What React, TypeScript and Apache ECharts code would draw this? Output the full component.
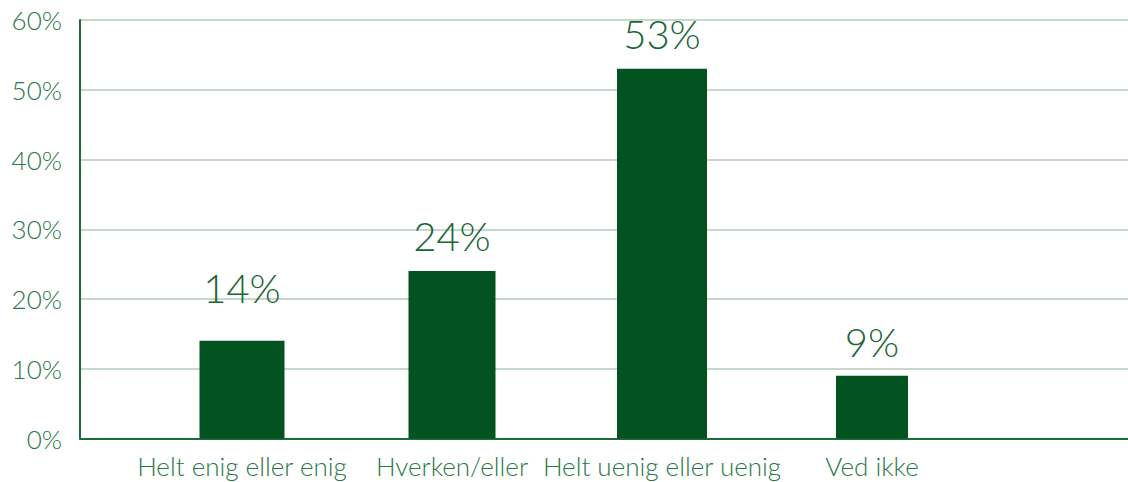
import React, { useEffect, useRef } from "react";
import * as echarts from "echarts";

const categories = ["Helt enig eller enig", "Hverken/eller", "Helt uenig eller uenig", "Ved ikke"];
const values = [14, 24, 53, 9];
const yTicks = [0, 10, 20, 30, 40, 50, 60];

// styling only
const barWidths = [85, 87, 90, 72];
const labelGaps = [33, 15, 15, 14];

const FONT = "Lato, 'Open Sans', sans-serif";
const BAR = "#02531f";
const TEXT = "#2a7747";
const VALTEXT = "#1b6636";

export default function App() {
  const ref = useRef<HTMLDivElement>(null);
  useEffect(() => {
    if (!ref.current) return;
    const chart = echarts.init(ref.current, null, { renderer: "svg" });
    const top = 20;
    const bottom = 43.5;
    chart.setOption({
      animation: false,
      backgroundColor: "#ffffff",
      grid: [
        { left: 137, right: 151, top, bottom },
        { left: 80, right: 0, top, bottom },
      ],
      xAxis: [
        {
          type: "category",
          gridIndex: 0,
          data: categories,
          axisLine: { show: false },
          axisTick: { show: false },
          axisLabel: {
            color: TEXT,
            fontFamily: FONT,
            fontSize: 26,
            fontWeight: 300,
            margin: 14,
            interval: 0,
          },
        },
        {
          type: "value",
          gridIndex: 1,
          min: 0,
          max: 1,
          axisLine: { show: true, lineStyle: { color: "#1e6b3b", width: 2 } },
          axisTick: { show: false },
          axisLabel: { show: false },
          splitLine: { show: false },
        },
      ],
      yAxis: [
        {
          type: "value",
          gridIndex: 0,
          min: yTicks[0],
          max: yTicks[yTicks.length - 1],
          interval: 10,
          show: false,
          splitLine: { show: false },
        },
        {
          type: "value",
          gridIndex: 1,
          min: yTicks[0],
          max: yTicks[yTicks.length - 1],
          interval: 10,
          axisLine: { show: true, lineStyle: { color: "#1e6b3b", width: 2 } },
          axisTick: { show: false },
          axisLabel: {
            formatter: "{value}%",
            color: TEXT,
            fontFamily: FONT,
            fontSize: 26,
            fontWeight: 300,
            margin: 18,
          },
          splitLine: { show: true, lineStyle: { color: "#c6d8cc", width: 2 } },
        },
      ],
      series: [
        {
          type: "custom",
          xAxisIndex: 0,
          yAxisIndex: 0,
          z: 5,
          data: categories.map((_, i) => [i, values[i]]),
          renderItem: (params: any, api: any) => {
            const i = api.value(0);
            const v = api.value(1);
            const p = api.coord([i, v]);
            const b = api.coord([i, 0]);
            const w = barWidths[i];
            return {
              type: "rect",
              shape: { x: p[0] - w / 2, y: p[1], width: w, height: b[1] - p[1] },
              style: { fill: BAR },
              textContent: {
                style: {
                  text: v + "%",
                  fill: VALTEXT,
                  fontFamily: FONT,
                  fontSize: 40,
                  fontWeight: 300,
                },
              },
              textConfig: { position: "top", distance: labelGaps[i] },
            };
          },
        },
      ],
    });
    return () => chart.dispose();
  }, []);
  return (
    <div
      ref={ref}
      style={{ position: "absolute", left: 0, top: 0, width: 1128, height: 482 }}
    />
  );
}
